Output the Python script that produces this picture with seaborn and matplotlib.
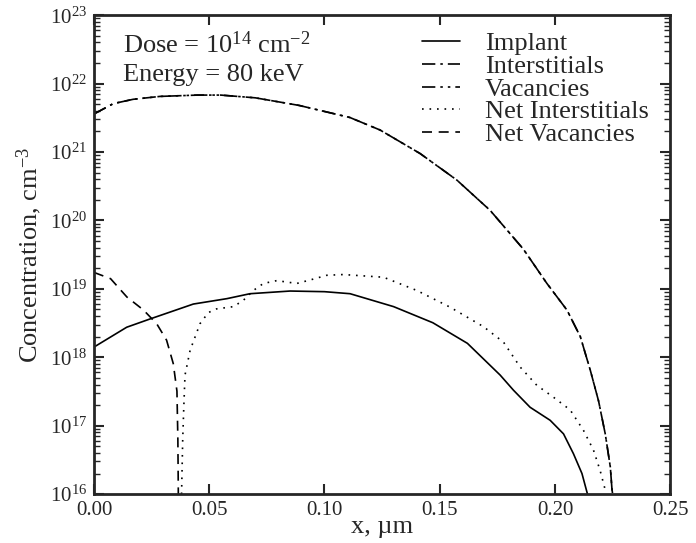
import numpy as np
import pandas as pd
import matplotlib
matplotlib.use("Agg")
import matplotlib.pyplot as plt
import matplotlib.ticker as mticker
import seaborn as sns

# Implant damage profiles (x in um, concentration in cm-3)
implant_x = [0.0, 0.0142, 0.0243, 0.0431, 0.0577, 0.0677, 0.0851, 0.100, 0.1111,
             0.130, 0.147, 0.162, 0.1762, 0.182, 0.1892, 0.1979, 0.2037, 0.208,
             0.2117, 0.2141]
implant_c = [1.41e18, 2.75e18, 3.63e18, 6.0e18, 7.2e18, 8.5e18, 9.3e18, 9.1e18, 8.5e18,
             5.5e18, 3.2e18, 1.6e18, 5.5e17, 3.3e17, 1.86e17, 1.2e17, 7.6e16, 3.9e16,
             2.0e16, 1.0e16]

defect_x = [0.0, 0.0084, 0.017, 0.0286, 0.045, 0.055, 0.070, 0.089, 0.111, 0.1241,
            0.1415, 0.1574, 0.1719, 0.1863, 0.1965, 0.2052, 0.211, 0.2153, 0.2189,
            0.2218, 0.224, 0.2247, 0.2250]
interstitials_c = [3.6e21, 5.1e21, 5.9e21, 6.5e21, 6.8e21, 6.8e21, 6.2e21, 4.8e21, 3.2e21,
                   2.1e21, 9.5e20, 3.9e20, 1.4e20, 3.8e19, 1.2e19, 4.9e18, 2.0e18, 6.5e17,
                   2.3e17, 7.6e16, 2.5e16, 1.2e16, 1.0e16]
vacancies_c = [3.6e21, 5.1e21, 5.9e21, 6.5e21, 6.8e21, 6.8e21, 6.2e21, 4.8e21, 3.2e21,
               2.1e21, 9.5e20, 3.9e20, 1.4e20, 3.8e19, 1.2e19, 4.9e18, 2.0e18, 6.5e17,
               2.3e17, 7.6e16, 2.5e16, 1.2e16, 1.0e16]

net_int_x = [0.0380, 0.0385, 0.0390, 0.0395, 0.0417, 0.046, 0.0496, 0.0532, 0.0605,
             0.0648, 0.0692, 0.0735, 0.0793, 0.088, 0.0938, 0.101, 0.1082, 0.1256,
             0.140, 0.1545, 0.169, 0.1777, 0.1849, 0.1921, 0.1994, 0.2066, 0.2124,
             0.2167, 0.2196, 0.2218]
net_int_c = [1.0e16, 6.3e16, 2.0e17, 5.5e17, 1.26e18, 3.1e18, 4.5e18, 5.1e18, 5.5e18,
             6.8e18, 9.5e18, 1.2e19, 1.32e19, 1.2e19, 1.35e19, 1.58e19, 1.62e19, 1.48e19,
             9.5e18, 5.4e18, 2.8e18, 1.66e18, 7.2e17, 3.9e17, 2.6e17, 1.7e17, 8.5e16,
             4.4e16, 2.2e16, 1.15e16]

net_vac_x = [0.0, 0.0072, 0.0143, 0.0215, 0.0272, 0.0315, 0.0344, 0.0360, 0.0364, 0.0366]
net_vac_c = [1.74e19, 1.41e19, 7.6e18, 4.9e18, 3.1e18, 1.78e18, 8.1e17, 3.2e17, 6.3e16, 1.0e16]

x_ticks = [0.0, 0.05, 0.10, 0.15, 0.20, 0.25]
y_ticks = [1e16, 1e17, 1e18, 1e19, 1e20, 1e21, 1e22, 1e23]
y_labels = ["10$^{%d}$" % p for p in range(16, 24)]

sns.set_style("ticks")
plt.rcParams["font.family"] = ["Liberation Serif", "DejaVu Serif"]
plt.rcParams["mathtext.fontset"] = "custom"
plt.rcParams["mathtext.rm"] = "Liberation Serif"
plt.rcParams["mathtext.it"] = "Liberation Serif:italic"

fig = plt.figure(figsize=(6.96, 5.43), dpi=100)
ax = fig.add_axes([0.135, 0.090, 0.828, 0.882])

lw = 1.2
sns.lineplot(x=implant_x, y=implant_c, ax=ax, color="black", lw=lw,
             linestyle="-", label="Implant", sort=False)
sns.lineplot(x=defect_x, y=interstitials_c, ax=ax, color="black", lw=lw,
             linestyle=(0, (8, 3, 1.5, 3)), label="Interstitials", sort=False)
sns.lineplot(x=defect_x, y=vacancies_c, ax=ax, color="black", lw=lw,
             linestyle=(0, (8, 3, 1.5, 3, 1.5, 3)), label="Vacancies", sort=False)
sns.lineplot(x=net_int_x, y=net_int_c, ax=ax, color="black", lw=lw,
             linestyle=(0, (1, 3.5)), label="Net Interstitials", sort=False)
sns.lineplot(x=net_vac_x, y=net_vac_c, ax=ax, color="black", lw=lw,
             linestyle=(0, (6, 4)), label="Net Vacancies", sort=False)

ax.set_yscale("log")
ax.set_xlim(0, 0.25)
ax.set_ylim(1e16, 1e23)
ax.set_xticks(x_ticks)
ax.set_xticklabels(["%.2f" % v for v in x_ticks])
ax.set_yticks(y_ticks)
ax.set_yticklabels(y_labels)
ax.yaxis.set_minor_locator(mticker.LogLocator(base=10, subs=np.arange(2, 10), numticks=20))
ax.yaxis.set_minor_formatter(mticker.NullFormatter())

for s in ax.spines.values():
    s.set_visible(True)
    s.set_linewidth(2)
ax.tick_params(which="both", direction="in", top=True, right=True, labelsize=15)
ax.tick_params(which="major", length=7, width=1.5, pad=5)
ax.tick_params(which="minor", length=4, width=1)

ax.set_xlabel("x, µm", fontsize=19, labelpad=-3)
ax.set_ylabel("Concentration, cm$^{-3}$", fontsize=19, labelpad=4)

ax.text(0.05, 0.922, "Dose = 10$^{14}$ cm$^{-2}$", transform=ax.transAxes,
        fontsize=19, va="baseline", ha="left")
ax.text(0.05, 0.863, "Energy = 80 keV", transform=ax.transAxes,
        fontsize=19, va="baseline", ha="left")

ax.legend(loc="upper left", bbox_to_anchor=(0.569, 0.965), frameon=False,
          fontsize=19, borderpad=0, handlelength=1.45, handletextpad=0.95,
          labelspacing=-0.03, borderaxespad=0)

fig.savefig("out.png", dpi=100)
